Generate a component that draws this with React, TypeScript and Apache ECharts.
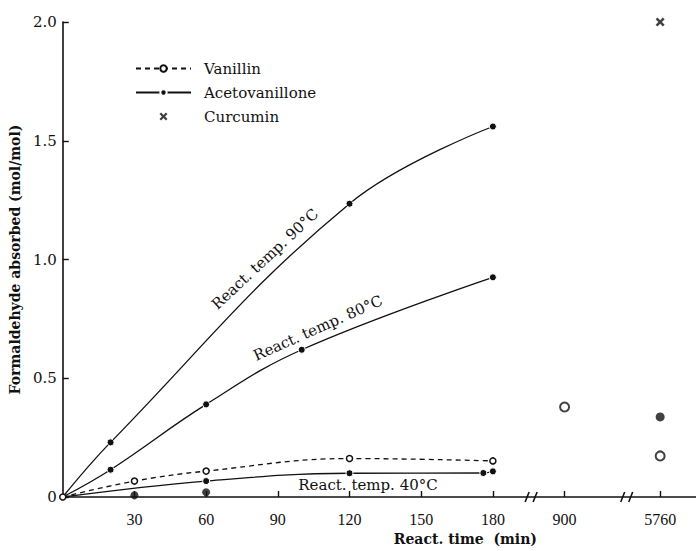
import { useEffect, useRef } from "react";
import * as echarts from "echarts";

// Formaldehyde absorbed (mol/mol) versus reaction time (min)
const vanillin40 = [[0, 0], [30, 0.067], [60, 0.109], [120, 0.162], [180, 0.152]];
const aceto90 = [[0, 0], [20, 0.23], [120, 1.235], [180, 1.56]];
const aceto80 = [[0, 0], [20, 0.115], [60, 0.39], [100, 0.62], [180, 0.925]];
const aceto40 = [[0, 0], [60, 0.067], [120, 0.1], [176, 0.101], [180, 0.108]];
const acetoLow = [[30, 0.007], [60, 0.02]];
const vanillinLong = [[900, 0.379], [5760, 0.173]];
const acetoLong = [[5760, 0.337]];
const curcumin = [[5760, 2.0]];

const xTicks = [30, 60, 90, 120, 150, 180, 900, 5760];
const yTicks = [0, 0.5, 1.0, 1.5, 2.0];

// Stretches of the time axis that are cut out (min)
const timeBreaks = [
  { start: 196, end: 886 },
  { start: 926, end: 5746 },
];

// Position of a time on the broken axis
function timeToAxis(t: number): number {
  let cut = 0;
  for (const b of timeBreaks) {
    if (t >= b.end) cut += b.end - b.start;
    else if (t > b.start) return b.start - cut;
  }
  return t - cut;
}

const onAxis = (pts: number[][]) => pts.map(([t, v]) => [timeToAxis(t), v]);
const tickPos = xTicks.map(timeToAxis);

const INK = "#111";
const SERIF = "DejaVu Serif";
const CROSS =
  "path://M2,0L5,3L8,0L10,2L7,5L10,8L8,10L5,7L2,10L0,8L3,5L0,2Z";

export default function App() {
  const ref = useRef<HTMLDivElement>(null);

  useEffect(() => {
    if (!ref.current) return;
    const chart = echarts.init(ref.current, null, { renderer: "svg" });

    const curveLine = (name: string, pts: number[][], dashed: boolean, open: boolean) => ({
      name,
      type: "line",
      smooth: 0.4,
      symbol: "circle",
      symbolSize: open ? 6 : 7,
      data: onAxis(pts).map((p, i) =>
        i === 0 && !open ? { value: p, symbol: "none" } : { value: p }
      ),
      lineStyle: { color: INK, width: 1.3, type: dashed ? [5, 4] : "solid" },
      itemStyle: open
        ? { color: "#fff", borderColor: INK, borderWidth: 1.5 }
        : { color: INK, borderColor: "#fff", borderWidth: 1 },
      z: 3,
    });

    const dots = (name: string, pts: number[][], open: boolean, size: number) => ({
      name,
      type: "scatter",
      symbol: "circle",
      symbolSize: size,
      data: onAxis(pts),
      itemStyle: open
        ? { color: "#fff", borderColor: INK, borderWidth: 2 }
        : { color: INK },
      z: 4,
    });

    chart.setOption({
      animation: false,
      backgroundColor: "#fff",
      grid: { left: 62, right: 0, top: 22, bottom: 54 },
      legend: {
        data: ["Vanillin", "Acetovanillone", "Curcumin"],
        orient: "vertical",
        left: 130,
        top: 56,
        itemWidth: 55,
        itemHeight: 8,
        itemGap: 9,
        selectedMode: false,
        textStyle: { fontFamily: SERIF, fontSize: 15, color: INK, padding: [0, 0, 0, 8] },
      },
      xAxis: {
        type: "value",
        min: 0,
        max: 265,
        name: "React. time  (min)",
        nameLocation: "middle",
        nameGap: 35,
        nameTextStyle: {
          fontFamily: SERIF,
          fontWeight: "bold",
          fontSize: 14,
          color: INK,
          padding: [0, 0, 0, 172],
        },
        axisLine: { lineStyle: { color: INK, width: 1.6 } },
        axisTick: {
          inside: true,
          length: 6,
          customValues: tickPos,
          lineStyle: { color: INK, width: 1.4 },
        },
        axisLabel: {
          customValues: tickPos,
          margin: 14,
          fontFamily: "Liberation Serif",
          fontSize: 16,
          color: INK,
          formatter: (v: number) => {
            const i = tickPos.findIndex((p) => Math.abs(p - v) < 1e-6);
            return i >= 0 ? String(xTicks[i]) : "";
          },
        },
        splitLine: { show: false },
      },
      yAxis: {
        type: "value",
        min: yTicks[0],
        max: yTicks[yTicks.length - 1],
        interval: 0.5,
        name: "Formaldehyde absorbed (mol/mol)",
        nameLocation: "middle",
        nameGap: 36,
        nameTextStyle: { fontFamily: SERIF, fontWeight: "bold", fontSize: 14, color: INK },
        axisLine: { show: true, lineStyle: { color: INK, width: 1.6 } },
        axisTick: { show: true, inside: true, length: 6, lineStyle: { color: INK, width: 1.4 } },
        axisLabel: {
          margin: 6,
          fontFamily: SERIF,
          fontSize: 15,
          color: INK,
          formatter: (v: number) => (v === 0 ? "0" : v.toFixed(1)),
        },
        splitLine: { show: false },
      },
      series: [
        curveLine("Vanillin", vanillin40, true, true),
        curveLine("Acetovanillone", aceto90, false, false),
        curveLine("Acetovanillone", aceto80, false, false),
        curveLine("Acetovanillone", aceto40, false, false),
        dots("Acetovanillone", acetoLow, false, 8),
        dots("Vanillin", vanillinLong, true, 9),
        dots("Acetovanillone", acetoLong, false, 9),
        {
          name: "Curcumin",
          type: "scatter",
          symbol: CROSS,
          symbolSize: 9,
          data: onAxis(curcumin),
          itemStyle: { color: INK },
          z: 4,
        },
      ],
    });

    // Break marks on the time axis and the temperature labels
    const y0 = chart.convertToPixel({ yAxisIndex: 0 }, 0) as number;
    const breakMarks = timeBreaks.map((b) => {
      const bx = chart.convertToPixel({ xAxisIndex: 0 }, timeToAxis(b.start)) as number;
      return {
        type: "group",
        children: [
          { type: "rect", shape: { x: bx - 3, y: y0 - 3, width: 6, height: 6 }, style: { fill: "#fff" } },
          { type: "line", shape: { x1: bx - 6, y1: y0 + 5, x2: bx - 2, y2: y0 - 5 }, style: { stroke: INK, lineWidth: 1.6 } },
          { type: "line", shape: { x1: bx + 2, y1: y0 + 5, x2: bx + 6, y2: y0 - 5 }, style: { stroke: INK, lineWidth: 1.6 } },
        ],
      };
    });

    const tempLabel = (text: string, x: number, y: number, deg: number) => ({
      type: "text",
      x,
      y,
      rotation: (deg * Math.PI) / 180,
      style: {
        text,
        fill: INK,
        font: `15px "${SERIF}"`,
        textAlign: "center",
        textVerticalAlign: "middle",
      },
    });

    chart.setOption({
      graphic: [
        ...breakMarks,
        tempLabel("React. temp. 90°C", 265, 259, 43),
        tempLabel("React. temp. 80°C", 318, 328, 24),
        tempLabel("React. temp. 40°C", 368, 485, 0),
      ],
    });

    return () => chart.dispose();
  }, []);

  return (
    <div
      ref={ref}
      style={{ position: "fixed", left: 0, top: 0, width: 696, height: 551, background: "#fff" }}
    />
  );
}
